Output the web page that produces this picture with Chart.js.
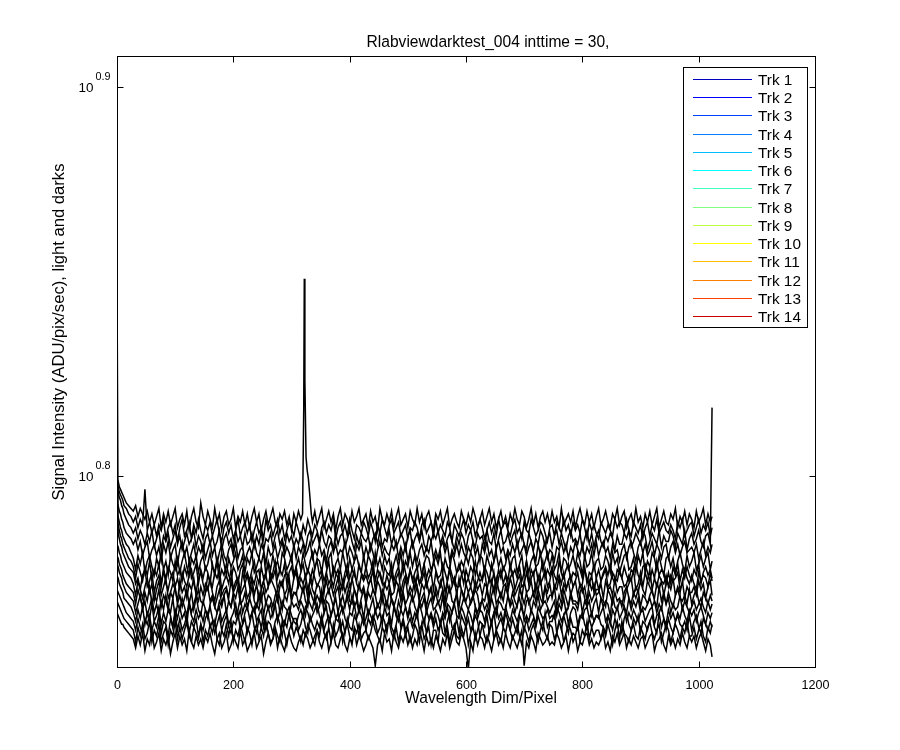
<!DOCTYPE html>
<html><head><meta charset="utf-8">
<script src="https://cdn.jsdelivr.net/npm/chart.js@4/dist/chart.umd.min.js"></script>
<style>html,body{margin:0;padding:0;background:#fff}canvas{display:block}</style>
</head><body>
<canvas id="c" width="900" height="750"></canvas>
<script>
const chartTitle = "Rlabviewdarktest_004 inttime = 30,";
const xAxisTitle = "Wavelength Dim/Pixel";
const yAxisTitle = "Signal Intensity (ADU/pix/sec), light and darks";
const xTicks = [0, 200, 400, 600, 800, 1000, 1200];
const yTickExponents = [0.8, 0.9];
const trackLabels = ["Trk 1","Trk 2","Trk 3","Trk 4","Trk 5","Trk 6","Trk 7","Trk 8","Trk 9","Trk 10","Trk 11","Trk 12","Trk 13","Trk 14"];

// pixel positions shared by Trk 2..14
const pixels = [0,2,4,6,8,10,12,16,20,24,
28,32,36,40,44,48,52,56,60,64,
68,72,76,80,84,88,92,96,100,104,
108,112,116,120,124,128,132,136,140,144,
148,152,156,160,164,168,172,176,180,184,
188,192,196,200,204,208,212,216,220,224,
228,232,236,240,244,248,252,256,260,264,
268,272,276,280,284,288,292,296,300,304,
308,312,316,320,324,328,332,336,340,344,
348,352,356,360,364,368,372,376,380,384,
388,392,396,400,404,408,412,416,420,424,
428,432,436,440,444,448,452,456,460,464,
468,472,476,480,484,488,492,496,500,504,
508,512,516,520,524,528,532,536,540,544,
548,552,556,560,564,568,572,576,580,584,
588,592,596,600,604,608,612,616,620,624,
628,632,636,640,644,648,652,656,660,664,
668,672,676,680,684,688,692,696,700,704,
708,712,716,720,724,728,732,736,740,744,
748,752,756,760,764,768,772,776,780,784,
788,792,796,800,804,808,812,816,820,824,
828,832,836,840,844,848,852,856,860,864,
868,872,876,880,884,888,892,896,900,904,
908,912,916,920,924,928,932,936,940,944,
948,952,956,960,964,968,972,976,980,984,
988,992,996,1000,1004,1008,1012,1016,1020,1023];

// Trk 1 has extra samples around its peak near pixel 322
const trk1Pixels = [0,2,4,6,8,10,12,16,20,24,
28,32,36,40,44,48,52,56,60,64,
68,72,76,80,84,88,92,96,100,104,
108,112,116,120,124,128,132,136,140,144,
148,152,156,160,164,168,172,176,180,184,
188,192,196,200,204,208,212,216,220,224,
228,232,236,240,244,248,252,256,260,264,
268,272,276,280,284,288,292,296,300,304,
308,312,316,319,321,322,323,325,327,329,
331,334,336,340,344,
348,352,356,360,364,368,372,376,380,384,
388,392,396,400,404,408,412,416,420,424,
428,432,436,440,444,448,452,456,460,464,
468,472,476,480,484,488,492,496,500,504,
508,512,516,520,524,528,532,536,540,544,
548,552,556,560,564,568,572,576,580,584,
588,592,596,600,604,608,612,616,620,624,
628,632,636,640,644,648,652,656,660,664,
668,672,676,680,684,688,692,696,700,704,
708,712,716,720,724,728,732,736,740,744,
748,752,756,760,764,768,772,776,780,784,
788,792,796,800,804,808,812,816,820,824,
828,832,836,840,844,848,852,856,860,864,
868,872,876,880,884,888,892,896,900,904,
908,912,916,920,924,928,932,936,940,944,
948,952,956,960,964,968,972,976,980,984,
988,992,996,1000,1004,1008,1012,1016,1020,1023];

const trk1 = [6.30,6.29,6.27,6.26,6.25,6.24,6.23,6.21,6.20,6.19,
6.18,6.20,6.16,6.19,6.17,6.15,6.18,6.14,6.17,6.13,
6.16,6.19,6.12,6.17,6.14,6.18,6.13,6.16,6.19,6.12,
6.15,6.17,6.13,6.18,6.11,6.16,6.19,6.14,6.12,6.21,
6.16,6.13,6.18,6.15,6.12,6.19,6.14,6.17,6.11,6.16,
6.18,6.13,6.15,6.19,6.12,6.16,6.14,6.18,6.13,6.17,
6.12,6.16,6.19,6.14,6.17,6.11,6.15,6.18,6.13,6.16,
6.19,6.14,6.12,6.17,6.15,6.18,6.13,6.16,6.11,6.17,
6.14,6.18,6.15,6.17,6.56,7.09,6.68,6.38,6.33,6.30,
6.25,6.17,6.14,6.18,6.13,
6.16,6.19,6.12,6.15,6.18,6.14,6.17,6.11,6.16,6.19,
6.13,6.17,6.15,6.12,6.18,6.14,6.16,6.19,6.13,6.15,
6.17,6.12,6.18,6.14,6.16,6.11,6.19,6.15,6.13,6.17,
6.14,6.18,6.12,6.16,6.19,6.13,6.15,6.17,6.12,6.18,
6.15,6.13,6.19,6.14,6.17,6.12,6.16,6.18,6.14,6.11,
6.17,6.15,6.18,6.13,6.16,6.19,6.12,6.15,6.17,6.14,
6.12,6.18,6.15,6.13,6.17,6.14,6.19,6.16,6.12,6.15,
6.18,6.13,6.16,6.19,6.14,6.17,6.12,6.15,6.18,6.13,
6.16,6.12,6.17,6.14,6.19,6.15,6.13,6.18,6.16,6.12,
6.15,6.19,6.13,6.17,6.12,6.16,6.18,6.14,6.17,6.13,
6.18,6.14,6.16,6.12,6.19,6.13,6.15,6.17,6.14,6.18,
6.12,6.16,6.19,6.15,6.13,6.18,6.14,6.17,6.12,6.16,
6.19,6.13,6.15,6.18,6.14,6.12,6.17,6.15,6.19,6.13,
6.16,6.18,6.12,6.15,6.17,6.13,6.19,6.14,6.16,6.12,
6.17,6.14,6.18,6.13,6.16,6.19,6.12,6.15,6.18,6.14,
6.13,6.17,6.15,6.19,6.12,6.16,6.14,6.18,6.13,6.17,
6.15,6.12,6.18,6.14,6.16,6.19,6.13,6.17,6.14,6.16];

const trk2 = [6.28,6.27,6.25,6.24,6.23,6.22,6.20,6.19,6.17,6.16,
6.14,6.16,6.12,6.15,6.13,6.26,6.11,6.14,6.10,6.13,
6.09,6.13,6.11,6.15,6.08,6.12,6.14,6.10,6.13,6.07,
6.12,6.15,6.09,6.11,6.14,6.08,6.13,6.10,6.15,6.11,
6.08,6.13,6.11,6.14,6.09,6.12,6.15,6.10,6.07,6.12,
6.14,6.10,6.13,6.08,6.11,6.15,6.09,6.12,6.14,6.10,
6.13,6.07,6.11,6.14,6.10,6.12,6.08,6.15,6.11,6.13,
6.09,6.12,6.15,6.10,6.13,6.08,6.11,6.14,6.12,6.09,
6.14,6.11,6.08,6.13,6.10,6.15,6.12,6.09,6.13,6.11,
6.07,6.12,6.14,6.10,6.13,6.11,6.15,6.08,6.12,6.14,
6.10,6.13,6.09,6.15,6.11,6.08,6.13,6.12,6.10,6.14,
6.12,6.09,6.14,6.11,6.07,6.13,6.10,6.15,6.12,6.09,
6.13,6.15,6.10,6.12,6.14,6.09,6.11,6.13,6.08,6.12,
6.11,6.14,6.12,6.08,6.13,6.15,6.10,6.12,6.14,6.09,
6.15,6.10,6.13,6.11,6.09,6.14,6.12,6.07,6.13,6.11,
6.09,6.12,6.15,6.10,6.13,6.11,6.14,6.09,6.12,6.15,
6.12,6.08,6.11,6.14,6.10,6.13,6.09,6.15,6.11,6.13,
6.14,6.11,6.09,6.13,6.15,6.10,6.12,6.08,6.14,6.11,
6.10,6.15,6.12,6.09,6.11,6.14,6.13,6.10,6.07,6.12,
6.13,6.09,6.14,6.12,6.10,6.15,6.11,6.13,6.09,6.14,
6.11,6.13,6.10,6.15,6.12,6.08,6.14,6.11,6.13,6.10,
6.08,6.14,6.12,6.10,6.13,6.11,6.09,6.15,6.12,6.14,
6.13,6.10,6.15,6.11,6.09,6.14,6.12,6.10,6.13,6.08,
6.12,6.14,6.09,6.13,6.11,6.15,6.10,6.12,6.14,6.11,
6.10,6.13,6.11,6.08,6.14,6.12,6.15,6.09,6.11,6.13,
6.14,6.09,6.12,6.15,6.10,6.13,6.11,6.14,6.09,6.12];

const trk3 = [6.26,6.25,6.23,6.22,6.20,6.19,6.17,6.15,6.13,6.12,
6.10,6.12,6.08,6.11,6.09,6.06,6.10,6.07,6.11,6.05,
6.08,6.11,6.04,6.09,6.07,6.10,6.05,6.08,6.11,6.06,
6.09,6.04,6.07,6.10,6.06,6.08,6.11,6.05,6.09,6.07,
6.03,6.08,6.10,6.06,6.09,6.05,6.07,6.11,6.04,6.08,
6.10,6.06,6.08,6.04,6.11,6.07,6.09,6.05,6.10,6.06,
6.07,6.10,6.05,6.09,6.06,6.11,6.04,6.08,6.07,6.10,
6.05,6.09,6.11,6.06,6.08,6.04,6.10,6.07,6.09,6.05,
6.08,6.06,6.10,6.07,6.04,6.09,6.11,6.06,6.08,6.10,
6.06,6.11,6.07,6.05,6.09,6.08,6.04,6.10,6.06,6.09,
6.10,6.05,6.08,6.11,6.07,6.04,6.09,6.06,6.10,6.08,
6.07,6.09,6.04,6.08,6.10,6.06,6.11,6.05,6.08,6.07,
6.11,6.06,6.09,6.05,6.07,6.10,6.08,6.04,6.09,6.11,
6.05,6.08,6.10,6.07,6.11,6.06,6.04,6.09,6.07,6.10,
6.08,6.11,6.06,6.09,6.05,6.08,6.10,6.07,6.04,6.09,
6.06,6.10,6.08,6.04,6.09,6.11,6.07,6.05,6.10,6.08,
6.09,6.05,6.11,6.07,6.06,6.10,6.04,6.08,6.11,6.06,
6.07,6.10,6.06,6.09,6.11,6.05,6.08,6.10,6.06,6.04,
6.10,6.07,6.04,6.08,6.06,6.11,6.09,6.05,6.08,6.10,
6.05,6.09,6.11,6.06,6.10,6.07,6.04,6.09,6.11,6.07,
6.08,6.06,6.10,6.04,6.08,6.11,6.06,6.10,6.05,6.09,
6.11,6.07,6.05,6.09,6.07,6.10,6.08,6.04,6.09,6.06,
6.06,6.10,6.08,6.11,6.05,6.07,6.10,6.08,6.06,6.11,
6.09,6.04,6.07,6.10,6.08,6.06,6.11,6.05,6.09,6.07,
6.07,6.11,6.09,6.05,6.10,6.08,6.06,6.11,6.04,6.08,
6.10,6.06,6.08,6.11,6.07,6.05,6.09,6.10,6.06,6.57];

const trk4 = [6.21,6.20,6.18,6.17,6.15,6.14,6.12,6.10,6.09,6.08,
6.06,6.08,6.04,6.07,6.02,6.05,6.07,6.01,6.04,6.06,
6.02,6.05,6.00,6.06,6.03,6.07,6.01,6.04,6.06,5.99,
6.04,6.07,6.02,6.05,6.00,6.03,6.06,6.01,6.05,6.03,
6.06,6.01,6.04,6.07,6.02,6.05,5.99,6.03,6.06,6.02,
6.00,6.04,6.06,6.02,6.07,6.01,6.04,6.05,6.00,6.03,
6.05,6.02,6.07,6.03,6.01,6.06,6.04,5.99,6.05,6.02,
6.03,6.06,6.01,6.04,6.07,6.02,6.05,6.03,6.00,6.06,
6.01,6.05,6.03,6.06,6.02,6.04,6.07,6.01,6.04,6.02,
6.06,6.02,6.04,6.00,6.05,6.07,6.03,6.06,6.02,6.04,
6.03,6.07,6.01,6.05,6.03,6.00,6.06,6.04,6.07,6.01,
6.05,6.02,6.06,6.03,5.99,6.04,6.07,6.02,6.05,6.03,
6.02,6.06,6.04,6.07,6.01,6.05,6.02,6.06,6.00,6.04,
6.07,6.03,6.00,6.04,6.06,6.02,6.05,6.03,6.07,6.01,
6.04,6.01,6.05,6.07,6.03,6.06,6.00,6.04,6.02,6.06,
6.02,6.06,6.03,6.01,6.05,6.03,6.07,6.02,6.05,6.00,
6.06,6.03,6.07,6.02,6.04,6.00,6.05,6.07,6.03,6.05,
6.01,6.04,6.02,6.06,6.03,6.07,6.02,6.04,6.06,6.02,
6.05,6.07,6.03,6.00,6.06,6.02,6.04,6.07,6.01,6.04,
6.03,6.00,6.05,6.04,6.07,6.03,6.06,6.01,6.05,6.03,
6.07,6.04,6.02,6.06,6.01,6.05,6.03,6.06,6.02,6.07,
6.02,6.05,6.07,6.03,6.05,6.01,6.06,6.03,6.04,6.00,
6.04,6.06,6.01,6.05,6.07,6.03,6.00,6.05,6.07,6.03,
6.06,6.02,6.04,6.07,6.02,6.06,6.04,6.01,6.05,6.06,
6.01,6.05,6.07,6.03,6.06,6.02,6.05,6.07,6.03,6.04,
6.05,6.03,6.06,6.01,6.04,6.07,6.02,6.05,6.03,6.06];

const trk5 = [6.17,6.16,6.14,6.12,6.11,6.09,6.08,6.06,6.05,6.03,
6.01,5.97,6.02,5.99,6.03,5.96,6.00,6.02,5.98,5.95,
6.01,5.98,6.03,5.97,6.00,5.95,6.02,5.99,5.97,6.01,
5.96,6.00,6.03,5.98,5.95,6.01,5.99,6.02,5.96,6.00,
6.02,5.97,5.99,6.03,5.98,5.96,6.01,5.97,6.03,5.99,
5.95,6.01,5.98,6.00,6.03,5.97,5.99,6.02,5.96,6.01,
5.99,6.03,5.96,5.98,6.01,5.99,6.03,5.95,6.00,5.97,
6.02,5.98,6.00,5.96,6.03,6.01,5.97,5.99,6.02,5.95,
5.98,6.01,5.97,6.03,5.99,5.96,6.00,6.03,5.97,6.01,
6.00,5.96,6.02,5.98,6.01,6.03,5.95,5.99,6.01,5.97,
6.03,5.99,5.95,6.01,5.97,6.00,6.02,5.98,5.96,6.02,
5.97,6.02,6.00,5.96,6.03,5.98,6.01,5.97,6.02,5.99,
6.01,5.95,5.99,6.02,5.98,6.03,5.96,6.00,5.98,6.03,
5.98,6.02,5.97,6.00,5.95,5.99,6.02,6.01,5.97,5.99,
6.02,5.99,6.03,5.96,6.01,5.98,5.97,6.03,6.00,5.96,
5.97,6.00,5.98,6.02,5.99,6.03,6.01,5.95,5.99,6.02,
6.01,5.96,6.02,5.99,5.97,6.00,6.03,5.98,6.01,5.97,
5.99,6.03,5.97,6.01,6.02,5.96,5.99,6.02,5.95,6.00,
5.96,6.00,6.02,5.98,5.99,6.03,5.97,6.00,6.03,5.98,
6.02,5.97,5.99,6.03,5.96,6.01,6.00,5.97,5.99,6.02,
5.98,6.03,6.00,5.95,6.02,5.98,5.99,6.03,5.97,6.00,
6.01,5.97,5.98,6.02,6.00,5.96,6.03,5.99,6.01,5.96,
5.99,6.02,6.03,5.97,5.98,6.01,5.96,6.02,5.99,6.03,
5.96,6.00,5.98,6.03,6.01,5.97,6.02,5.98,5.95,6.01,
6.02,5.98,6.01,5.96,6.00,6.03,5.99,5.96,6.02,5.98,
6.00,6.03,5.97,5.99,6.02,5.98,6.01,6.03,5.97,6.00];

const trk6 = [6.14,6.13,6.11,6.09,6.08,6.06,6.05,6.03,6.01,6.00,
5.98,5.94,5.99,5.96,5.93,5.98,5.95,6.00,5.93,5.97,
5.95,5.99,5.92,5.97,5.94,5.98,5.96,5.93,6.00,5.95,
5.97,5.93,5.98,5.95,6.00,5.94,5.96,5.99,5.92,5.97,
5.94,5.98,5.96,5.92,5.99,5.95,6.00,5.93,5.97,5.95,
5.99,5.95,5.93,5.98,5.96,5.92,5.97,5.99,5.94,5.96,
5.93,5.97,6.00,5.95,5.92,5.98,5.94,5.96,5.99,5.93,
5.96,6.00,5.94,5.97,5.95,5.99,5.92,5.96,5.98,5.94,
5.98,5.93,5.96,5.99,5.94,5.97,5.95,5.92,5.98,6.00,
5.95,5.97,5.93,5.96,6.00,5.93,5.98,5.96,5.94,5.97,
5.92,5.96,5.99,5.94,5.97,5.95,5.93,5.99,5.96,5.94,
5.98,5.94,5.96,6.00,5.93,5.97,5.95,5.92,5.98,5.96,
5.95,5.99,5.93,5.96,5.98,5.94,6.00,5.96,5.93,5.97,
5.93,5.96,5.98,5.92,5.95,5.99,5.94,5.97,5.95,6.00,
5.97,5.94,5.95,5.99,5.96,5.93,5.98,5.95,5.92,5.96,
5.99,5.96,5.92,5.97,5.94,5.98,5.96,6.00,5.95,5.93,
5.94,5.98,5.96,5.93,5.99,5.95,5.92,5.97,5.94,5.98,
5.96,5.93,5.99,5.95,5.97,5.94,5.98,5.93,5.96,6.00,
5.92,5.97,5.95,5.98,5.93,5.96,6.00,5.94,5.97,5.95,
5.98,5.95,5.93,6.00,5.96,5.94,5.97,5.99,5.93,5.96,
5.95,5.99,5.97,5.94,5.98,5.92,5.96,5.95,5.99,5.94,
5.97,5.93,5.96,5.98,5.95,5.99,5.94,5.92,5.97,5.96,
5.94,5.98,5.95,5.93,5.97,5.96,5.99,5.95,5.93,5.98,
5.99,5.96,5.93,5.97,5.94,6.00,5.95,5.97,5.96,5.92,
5.96,5.92,5.98,5.95,5.99,5.93,5.97,5.94,5.98,5.95,
5.93,5.97,5.95,5.99,5.92,5.96,5.98,5.95,5.97,5.94];

const trk7 = [7.08,6.10,6.08,6.06,6.05,6.03,6.02,6.00,5.98,5.97,
5.96,5.92,5.94,5.90,5.95,5.97,5.91,5.93,5.96,5.89,
5.93,5.95,5.91,5.97,5.92,5.90,5.94,5.96,5.91,5.94,
5.90,5.96,5.93,5.91,5.95,5.97,5.92,5.89,5.94,5.96,
5.92,5.89,5.95,5.93,5.91,5.96,5.94,5.97,5.90,5.93,
5.95,5.92,5.97,5.90,5.93,5.94,5.89,5.96,5.92,5.95,
5.91,5.94,5.92,5.96,5.97,5.90,5.93,5.95,5.91,5.96,
5.94,5.97,5.90,5.93,5.91,5.95,5.96,5.92,5.89,5.94,
5.96,5.91,5.94,5.92,5.95,5.90,5.93,5.97,5.94,5.91,
5.93,5.95,5.89,5.96,5.92,5.94,5.91,5.95,5.97,5.92,
5.90,5.94,5.96,5.91,5.93,5.97,5.92,5.90,5.95,5.93,
5.95,5.92,5.93,5.97,5.90,5.94,5.96,5.93,5.91,5.95,
5.92,5.96,5.91,5.94,5.96,5.89,5.93,5.95,5.92,5.97,
5.94,5.90,5.95,5.92,5.93,5.96,5.91,5.94,5.96,5.90,
5.96,5.93,5.91,5.95,5.89,5.93,5.97,5.92,5.94,5.91,
5.91,5.95,5.97,5.92,5.94,5.91,5.95,5.90,5.93,5.96,
5.93,5.97,5.90,5.94,5.92,5.96,5.89,5.94,5.97,5.92,
5.95,5.91,5.94,5.96,5.90,5.93,5.95,5.91,5.92,5.96,
5.92,5.94,5.96,5.89,5.95,5.92,5.94,5.97,5.91,5.93,
5.97,5.90,5.93,5.95,5.92,5.96,5.90,5.93,5.95,5.91,
5.93,5.96,5.91,5.92,5.97,5.94,5.92,5.95,5.89,5.94,
5.90,5.93,5.95,5.97,5.91,5.92,5.96,5.94,5.93,5.97,
5.94,5.91,5.92,5.95,5.93,5.97,5.90,5.92,5.96,5.91,
5.96,5.93,5.97,5.90,5.94,5.91,5.95,5.93,5.92,5.95,
5.91,5.95,5.93,5.94,5.96,5.90,5.92,5.97,5.94,5.92,
5.95,5.92,5.90,5.96,5.93,5.95,5.94,5.91,5.96,5.93];

const trk8 = [6.06,6.05,6.03,6.02,6.00,5.99,5.98,5.96,5.95,5.94,
5.92,5.88,5.93,5.90,5.87,5.91,5.94,5.89,5.92,5.86,
5.90,5.93,5.88,5.91,5.94,5.87,5.89,5.92,5.90,5.86,
5.93,5.89,5.91,5.87,5.92,5.90,5.94,5.88,5.86,5.91,
5.88,5.92,5.90,5.94,5.89,5.86,5.91,5.93,5.88,5.90,
5.91,5.87,5.93,5.89,5.91,5.94,5.88,5.90,5.92,5.87,
5.89,5.94,5.88,5.92,5.86,5.90,5.93,5.89,5.91,5.94,
5.92,5.90,5.86,5.91,5.93,5.88,5.90,5.94,5.87,5.89,
5.88,5.93,5.91,5.89,5.92,5.87,5.94,5.90,5.88,5.92,
5.91,5.86,5.90,5.93,5.89,5.92,5.88,5.91,5.94,5.89,
5.93,5.89,5.92,5.88,5.94,5.90,5.87,5.92,5.89,5.91,
5.87,5.91,5.94,5.90,5.88,5.93,5.91,5.86,5.92,5.90,
5.92,5.88,5.89,5.93,5.91,5.87,5.90,5.94,5.88,5.91,
5.89,5.94,5.91,5.87,5.92,5.90,5.93,5.89,5.91,5.86,
5.91,5.88,5.93,5.90,5.86,5.92,5.89,5.91,5.94,5.88,
5.94,5.90,5.87,5.92,5.89,5.91,5.88,5.93,5.90,5.92,
5.88,5.92,5.91,5.86,5.93,5.89,5.94,5.90,5.87,5.91,
5.92,5.89,5.94,5.91,5.88,5.90,5.92,5.87,5.93,5.89,
5.90,5.93,5.88,5.92,5.90,5.94,5.87,5.91,5.89,5.92,
5.87,5.91,5.90,5.94,5.88,5.92,5.90,5.93,5.88,5.91,
5.93,5.88,5.92,5.89,5.91,5.86,5.93,5.90,5.92,5.88,
5.89,5.92,5.87,5.93,5.90,5.91,5.88,5.94,5.89,5.91,
5.91,5.86,5.90,5.92,5.94,5.88,5.91,5.89,5.93,5.90,
5.88,5.93,5.91,5.89,5.87,5.92,5.90,5.93,5.88,5.92,
5.92,5.90,5.94,5.88,5.91,5.89,5.93,5.87,5.91,5.89,
5.89,5.91,5.88,5.93,5.90,5.92,5.87,5.91,5.93,5.88];

const trk9 = [6.02,6.01,5.99,5.98,5.97,5.95,5.94,5.92,5.91,5.90,
5.89,5.85,5.90,5.87,5.84,5.89,5.86,5.91,5.85,5.88,
5.86,5.90,5.84,5.88,5.86,5.83,5.89,5.87,5.91,5.85,
5.88,5.84,5.87,5.90,5.85,5.89,5.83,5.87,5.90,5.86,
5.85,5.89,5.91,5.86,5.88,5.84,5.87,5.90,5.85,5.88,
5.90,5.86,5.84,5.89,5.87,5.91,5.85,5.86,5.89,5.84,
5.87,5.91,5.86,5.84,5.89,5.86,5.90,5.85,5.88,5.87,
5.84,5.88,5.90,5.87,5.83,5.88,5.86,5.91,5.86,5.89,
5.89,5.85,5.87,5.91,5.86,5.84,5.90,5.87,5.85,5.88,
5.86,5.90,5.85,5.88,5.90,5.87,5.84,5.89,5.91,5.85,
5.88,5.84,5.89,5.86,5.85,5.90,5.88,5.83,5.87,5.90,
5.85,5.89,5.87,5.90,5.88,5.84,5.86,5.90,5.88,5.84,
5.90,5.86,5.84,5.87,5.91,5.86,5.89,5.85,5.87,5.89,
5.86,5.88,5.91,5.85,5.87,5.89,5.84,5.88,5.90,5.86,
5.89,5.85,5.87,5.90,5.84,5.88,5.91,5.86,5.85,5.89,
5.84,5.90,5.88,5.86,5.89,5.85,5.87,5.90,5.88,5.83,
5.87,5.86,5.90,5.84,5.88,5.91,5.85,5.87,5.89,5.86,
5.91,5.88,5.85,5.89,5.86,5.84,5.90,5.88,5.85,5.89,
5.85,5.87,5.89,5.86,5.90,5.87,5.85,5.91,5.86,5.88,
5.88,5.91,5.84,5.88,5.85,5.90,5.87,5.84,5.89,5.86,
5.86,5.85,5.89,5.91,5.87,5.85,5.89,5.86,5.88,5.90,
5.90,5.87,5.86,5.84,5.90,5.88,5.85,5.89,5.86,5.87,
5.84,5.89,5.91,5.87,5.85,5.89,5.87,5.90,5.84,5.88,
5.87,5.85,5.88,5.90,5.86,5.84,5.91,5.86,5.89,5.85,
5.89,5.86,5.84,5.88,5.90,5.87,5.86,5.88,5.85,5.90,
5.85,5.88,5.90,5.86,5.84,5.89,5.87,5.85,5.88,5.86];

const trk10 = [5.99,5.98,5.96,5.95,5.94,5.92,5.91,5.89,5.88,5.87,
5.86,5.82,5.85,5.88,5.83,5.86,5.81,5.84,5.87,5.82,
5.85,5.81,5.86,5.83,5.88,5.84,5.82,5.87,5.80,5.85,
5.83,5.87,5.84,5.81,5.86,5.82,5.85,5.88,5.83,5.81,
5.86,5.83,5.80,5.85,5.87,5.84,5.82,5.86,5.84,5.88,
5.82,5.86,5.84,5.88,5.81,5.83,5.87,5.82,5.85,5.83,
5.87,5.84,5.82,5.85,5.83,5.88,5.81,5.86,5.83,5.85,
5.81,5.85,5.88,5.82,5.86,5.84,5.83,5.80,5.86,5.84,
5.85,5.83,5.86,5.84,5.81,5.87,5.85,5.83,5.88,5.82,
5.84,5.88,5.82,5.86,5.85,5.81,5.84,5.87,5.82,5.86,
5.82,5.85,5.87,5.83,5.88,5.84,5.86,5.82,5.85,5.80,
5.86,5.81,5.84,5.87,5.82,5.85,5.83,5.88,5.84,5.86,
5.83,5.87,5.85,5.81,5.86,5.83,5.88,5.84,5.81,5.85,
5.88,5.84,5.82,5.86,5.84,5.87,5.82,5.85,5.87,5.83,
5.84,5.86,5.83,5.88,5.81,5.85,5.84,5.82,5.86,5.88,
5.81,5.84,5.87,5.85,5.83,5.86,5.88,5.84,5.82,5.85,
5.86,5.83,5.85,5.82,5.87,5.84,5.81,5.86,5.85,5.83,
5.83,5.88,5.84,5.86,5.82,5.85,5.87,5.83,5.81,5.86,
5.87,5.82,5.86,5.84,5.88,5.83,5.85,5.86,5.84,5.82,
5.84,5.86,5.81,5.85,5.83,5.87,5.82,5.84,5.88,5.85,
5.85,5.83,5.88,5.82,5.86,5.84,5.86,5.81,5.85,5.87,
5.82,5.87,5.84,5.86,5.85,5.81,5.88,5.84,5.83,5.86,
5.86,5.84,5.82,5.87,5.83,5.86,5.84,5.87,5.82,5.84,
5.83,5.85,5.87,5.84,5.86,5.82,5.85,5.83,5.88,5.85,
5.87,5.82,5.85,5.83,5.84,5.88,5.83,5.86,5.84,5.82,
5.84,5.86,5.83,5.85,5.87,5.84,5.82,5.86,5.83,5.85];

const trk11 = [5.95,5.94,5.92,5.91,5.90,5.89,5.87,5.86,5.85,5.84,
5.82,5.79,5.83,5.80,5.84,5.78,5.82,5.80,5.85,5.79,
5.81,5.84,5.78,5.82,5.79,5.83,5.81,5.77,5.83,5.80,
5.84,5.80,5.82,5.78,5.85,5.81,5.79,5.83,5.80,5.82,
5.79,5.83,5.81,5.84,5.80,5.78,5.82,5.84,5.79,5.81,
5.83,5.78,5.80,5.82,5.85,5.80,5.83,5.78,5.82,5.84,
5.80,5.82,5.84,5.79,5.81,5.83,5.77,5.81,5.84,5.80,
5.82,5.85,5.79,5.83,5.80,5.78,5.82,5.84,5.81,5.79,
5.78,5.81,5.83,5.80,5.84,5.82,5.79,5.81,5.83,5.85,
5.81,5.79,5.82,5.84,5.78,5.81,5.84,5.80,5.79,5.82,
5.84,5.80,5.78,5.82,5.81,5.85,5.80,5.83,5.81,5.78,
5.80,5.83,5.81,5.79,5.83,5.80,5.82,5.78,5.84,5.81,
5.82,5.78,5.84,5.81,5.79,5.83,5.81,5.84,5.80,5.83,
5.79,5.82,5.80,5.85,5.82,5.78,5.83,5.80,5.82,5.79,
5.83,5.81,5.78,5.82,5.80,5.84,5.79,5.82,5.85,5.81,
5.80,5.84,5.82,5.79,5.83,5.81,5.78,5.84,5.80,5.83,
5.82,5.79,5.83,5.81,5.78,5.82,5.84,5.80,5.82,5.79,
5.84,5.81,5.79,5.83,5.81,5.79,5.82,5.85,5.79,5.81,
5.79,5.83,5.81,5.78,5.84,5.82,5.80,5.81,5.83,5.80,
5.81,5.80,5.84,5.82,5.79,5.81,5.83,5.78,5.82,5.84,
5.83,5.78,5.81,5.80,5.83,5.84,5.80,5.82,5.79,5.81,
5.80,5.82,5.84,5.79,5.81,5.78,5.83,5.81,5.84,5.80,
5.82,5.84,5.79,5.82,5.80,5.83,5.81,5.79,5.82,5.83,
5.79,5.81,5.83,5.84,5.78,5.81,5.82,5.84,5.80,5.78,
5.83,5.80,5.82,5.79,5.82,5.80,5.84,5.81,5.79,5.83,
5.81,5.83,5.79,5.82,5.84,5.81,5.78,5.82,5.80,5.82];

const trk12 = [5.90,5.89,5.88,5.87,5.86,5.85,5.84,5.82,5.81,5.80,
5.79,5.76,5.80,5.77,5.75,5.80,5.78,5.81,5.76,5.79,
5.77,5.81,5.75,5.79,5.78,5.74,5.80,5.77,5.82,5.76,
5.80,5.76,5.78,5.81,5.75,5.79,5.77,5.80,5.74,5.78,
5.76,5.80,5.82,5.77,5.79,5.75,5.78,5.81,5.76,5.79,
5.81,5.77,5.75,5.79,5.78,5.82,5.76,5.78,5.80,5.75,
5.78,5.82,5.77,5.75,5.80,5.77,5.81,5.76,5.79,5.78,
5.75,5.79,5.81,5.78,5.74,5.79,5.77,5.82,5.77,5.80,
5.80,5.76,5.78,5.82,5.77,5.75,5.81,5.78,5.76,5.79,
5.77,5.81,5.76,5.79,5.81,5.78,5.75,5.80,5.82,5.76,
5.79,5.75,5.80,5.77,5.76,5.81,5.79,5.74,5.78,5.81,
5.76,5.80,5.78,5.81,5.79,5.75,5.77,5.81,5.79,5.75,
5.81,5.77,5.75,5.78,5.82,5.77,5.80,5.76,5.78,5.80,
5.77,5.79,5.82,5.76,5.78,5.80,5.75,5.79,5.81,5.77,
5.80,5.76,5.78,5.81,5.75,5.79,5.82,5.77,5.76,5.80,
5.75,5.81,5.79,5.77,5.80,5.76,5.78,5.81,5.79,5.74,
5.78,5.77,5.81,5.75,5.79,5.82,5.76,5.78,5.80,5.77,
5.82,5.79,5.76,5.80,5.77,5.75,5.81,5.79,5.76,5.80,
5.76,5.78,5.80,5.77,5.81,5.78,5.76,5.82,5.77,5.79,
5.79,5.82,5.75,5.79,5.76,5.81,5.78,5.75,5.80,5.77,
5.77,5.76,5.80,5.82,5.78,5.76,5.80,5.77,5.79,5.81,
5.81,5.78,5.77,5.75,5.81,5.79,5.76,5.80,5.77,5.78,
5.75,5.80,5.82,5.78,5.76,5.80,5.78,5.81,5.75,5.79,
5.78,5.76,5.79,5.81,5.77,5.75,5.82,5.77,5.80,5.76,
5.80,5.77,5.75,5.79,5.81,5.78,5.77,5.79,5.76,5.81,
5.76,5.79,5.81,5.77,5.75,5.80,5.78,5.76,5.79,5.77];

const trk13 = [5.86,5.85,5.84,5.83,5.82,5.81,5.80,5.79,5.78,5.77,
5.76,5.72,5.77,5.74,5.78,5.73,5.75,5.79,5.72,5.76,
5.74,5.78,5.72,5.75,5.77,5.71,5.76,5.74,5.79,5.73,
5.77,5.73,5.76,5.79,5.74,5.72,5.77,5.75,5.73,5.78,
5.72,5.76,5.74,5.78,5.75,5.79,5.73,5.71,5.76,5.74,
5.78,5.74,5.79,5.72,5.76,5.74,5.78,5.75,5.72,5.77,
5.75,5.71,5.76,5.78,5.73,5.77,5.74,5.79,5.75,5.72,
5.73,5.77,5.74,5.72,5.79,5.75,5.71,5.76,5.78,5.74,
5.77,5.75,5.72,5.76,5.74,5.78,5.76,5.73,5.71,5.76,
5.74,5.79,5.75,5.73,5.77,5.72,5.78,5.74,5.76,5.79,
5.72,5.76,5.78,5.74,5.71,5.77,5.75,5.78,5.73,5.75,
5.76,5.73,5.75,5.79,5.76,5.74,5.72,5.77,5.75,5.78,
5.79,5.75,5.73,5.77,5.72,5.76,5.79,5.74,5.77,5.72,
5.74,5.78,5.76,5.72,5.78,5.73,5.75,5.77,5.71,5.76,
5.76,5.72,5.79,5.75,5.74,5.77,5.72,5.76,5.78,5.74,
5.73,5.77,5.74,5.78,5.71,5.75,5.77,5.73,5.76,5.79,
5.78,5.74,5.72,5.76,5.79,5.73,5.76,5.74,5.72,5.77,
5.75,5.79,5.76,5.73,5.75,5.78,5.74,5.71,5.77,5.75,
5.72,5.76,5.78,5.75,5.72,5.76,5.79,5.75,5.73,5.78,
5.77,5.73,5.75,5.79,5.77,5.72,5.75,5.78,5.76,5.72,
5.74,5.78,5.72,5.76,5.74,5.79,5.73,5.77,5.74,5.76,
5.76,5.73,5.77,5.74,5.78,5.75,5.71,5.76,5.79,5.73,
5.79,5.75,5.74,5.72,5.76,5.78,5.74,5.73,5.77,5.75,
5.73,5.77,5.79,5.75,5.73,5.76,5.78,5.72,5.75,5.78,
5.76,5.72,5.75,5.78,5.76,5.73,5.77,5.75,5.79,5.74,
5.74,5.77,5.73,5.76,5.79,5.74,5.72,5.77,5.75,5.78];

const trk14 = [5.82,5.81,5.80,5.79,5.78,5.78,5.77,5.76,5.75,5.74,
5.73,5.70,5.74,5.71,5.75,5.69,5.73,5.71,5.76,5.70,
5.72,5.75,5.69,5.73,5.71,5.74,5.68,5.72,5.75,5.70,
5.74,5.71,5.73,5.69,5.76,5.72,5.70,5.74,5.71,5.73,
5.70,5.74,5.72,5.75,5.71,5.68,5.73,5.75,5.70,5.72,
5.75,5.69,5.71,5.74,5.72,5.70,5.76,5.71,5.73,5.69,
5.71,5.73,5.75,5.70,5.72,5.74,5.68,5.72,5.75,5.71,
5.73,5.76,5.70,5.74,5.71,5.69,5.73,5.75,5.72,5.70,
5.69,5.72,5.74,5.71,5.75,5.73,5.70,5.72,5.74,5.76,
5.72,5.70,5.73,5.75,5.69,5.72,5.75,5.71,5.70,5.73,
5.75,5.71,5.69,5.73,5.72,5.76,5.71,5.74,5.72,5.69,
5.71,5.74,5.72,5.70,5.64,5.71,5.73,5.69,5.75,5.72,
5.73,5.69,5.75,5.72,5.70,5.74,5.72,5.75,5.71,5.74,
5.70,5.73,5.71,5.76,5.73,5.69,5.74,5.71,5.73,5.70,
5.74,5.72,5.69,5.73,5.71,5.75,5.70,5.73,5.76,5.72,
5.71,5.75,5.73,5.70,5.63,5.72,5.69,5.75,5.71,5.74,
5.73,5.70,5.74,5.72,5.69,5.73,5.75,5.71,5.73,5.70,
5.75,5.72,5.70,5.74,5.72,5.70,5.73,5.76,5.64,5.72,
5.70,5.74,5.72,5.69,5.75,5.73,5.71,5.72,5.74,5.71,
5.72,5.71,5.75,5.73,5.70,5.72,5.74,5.69,5.73,5.75,
5.74,5.69,5.72,5.71,5.74,5.75,5.71,5.73,5.70,5.72,
5.71,5.73,5.75,5.70,5.72,5.69,5.74,5.72,5.75,5.71,
5.73,5.75,5.70,5.73,5.71,5.74,5.72,5.70,5.73,5.74,
5.70,5.72,5.74,5.75,5.69,5.72,5.73,5.75,5.71,5.69,
5.74,5.71,5.73,5.70,5.73,5.71,5.75,5.72,5.70,5.74,
5.72,5.74,5.70,5.73,5.75,5.72,5.69,5.73,5.71,5.67];

const tracks = [trk1,trk2,trk3,trk4,trk5,trk6,trk7,trk8,trk9,trk10,trk11,trk12,trk13,trk14];
const legendColors = ["rgb(0,0,191)","rgb(0,0,255)","rgb(0,64,255)","rgb(0,128,255)","rgb(0,191,255)","rgb(0,255,255)","rgb(64,255,191)","rgb(128,255,128)","rgb(191,255,64)","rgb(255,255,0)","rgb(255,191,0)","rgb(255,128,0)","rgb(255,64,0)","rgb(200,0,0)"];

const FONT = '"Liberation Sans", Arial, Helvetica, sans-serif';
function fitSize(ctx, text, targetW) {
  ctx.font = '100px ' + FONT;
  return 100 * targetW / ctx.measureText(text).width;
}

const overlay = {
  id: 'overlay',
  afterDraw(chart) {
    const ctx = chart.ctx, a = chart.chartArea, xs = chart.scales.x, ys = chart.scales.y;
    const L = Math.round(a.left) + 0.5, R = Math.round(a.right) + 0.5;
    const T = Math.round(a.top) + 0.5, B = Math.round(a.bottom) + 0.5;
    ctx.save();
    ctx.strokeStyle = '#000'; ctx.fillStyle = '#000'; ctx.lineWidth = 1;
    ctx.strokeRect(L, T, R - L, B - T);
    const xsz = fitSize(ctx, '200', 21);
    ctx.font = xsz + 'px ' + FONT;
    ctx.textAlign = 'center'; ctx.textBaseline = 'alphabetic';
    xTicks.forEach(v => {
      const px = Math.round(xs.getPixelForValue(v)) + 0.5;
      ctx.beginPath();
      ctx.moveTo(px, B); ctx.lineTo(px, B - 6);
      ctx.moveTo(px, T); ctx.lineTo(px, T + 6);
      ctx.stroke();
      ctx.fillText(String(v), px, B + 21);
    });
    const baseSize = fitSize(ctx, '10', 15);
    const supSize = fitSize(ctx, '0.8', 15);
    yTickExponents.forEach(e => {
      const py = Math.round(ys.getPixelForValue(Math.pow(10, e))) + 0.5;
      ctx.beginPath();
      ctx.moveTo(L, py); ctx.lineTo(L + 6, py);
      ctx.moveTo(R, py); ctx.lineTo(R - 6, py);
      ctx.stroke();
      ctx.textAlign = 'right';
      ctx.font = supSize + 'px ' + FONT;
      ctx.fillText(e.toFixed(1), L - 7, py - 8);
      ctx.font = baseSize + 'px ' + FONT;
      ctx.fillText('10', L - 24, py + 4);
    });
    ctx.textAlign = 'center';
    ctx.font = fitSize(ctx, chartTitle, 243) + 'px ' + FONT;
    ctx.fillText(chartTitle, 488, 47);
    ctx.font = fitSize(ctx, xAxisTitle, 152) + 'px ' + FONT;
    ctx.fillText(xAxisTitle, 481, 703);
    ctx.save();
    ctx.translate(64, 332);
    ctx.rotate(-Math.PI / 2);
    ctx.font = fitSize(ctx, yAxisTitle, 337) + 'px ' + FONT;
    ctx.fillText(yAxisTitle, 0, 0);
    ctx.restore();
    const lx = 683.5, ly = 67.5, lw = 124, lh = 260;
    ctx.fillStyle = '#fff';
    ctx.fillRect(lx, ly, lw, lh);
    ctx.strokeStyle = '#000';
    ctx.strokeRect(lx, ly, lw, lh);
    ctx.font = fitSize(ctx, 'Trk 10', 43) + 'px ' + FONT;
    ctx.textAlign = 'left'; ctx.textBaseline = 'middle';
    trackLabels.forEach((lab, i) => {
      const yy = Math.round(79 + i * 18.23) + 0.5;
      ctx.strokeStyle = legendColors[i];
      ctx.beginPath(); ctx.moveTo(693, yy); ctx.lineTo(752, yy); ctx.stroke();
      ctx.fillStyle = '#000';
      ctx.fillText(lab, 758, yy + 1);
    });
    ctx.restore();
  }
};

new Chart(document.getElementById('c'), {
  type: 'line',
  data: {
    datasets: tracks.map((t, i) => {
      const px = i === 0 ? trk1Pixels : pixels;
      if (px.length !== t.length) console.warn('length mismatch', i, px.length, t.length);
      return {
        label: trackLabels[i],
        data: px.map((p, j) => ({ x: p, y: t[j] })),
        borderColor: '#000',
        borderWidth: 1.5,
        pointRadius: 0,
        fill: false,
        tension: 0
      };
    })
  },
  options: {
    responsive: false,
    animation: false,
    devicePixelRatio: 1,
    events: [],
    layout: { padding: { left: 117, top: 56, right: 85, bottom: 83 } },
    scales: {
      x: { type: 'linear', min: 0, max: 1200, bounds: 'data', display: false },
      y: { type: 'logarithmic', min: 5.636, max: 8.088, bounds: 'data', display: false }
    },
    plugins: { legend: { display: false }, title: { display: false }, tooltip: { enabled: false } }
  },
  plugins: [overlay]
});
</script>
</body></html>
